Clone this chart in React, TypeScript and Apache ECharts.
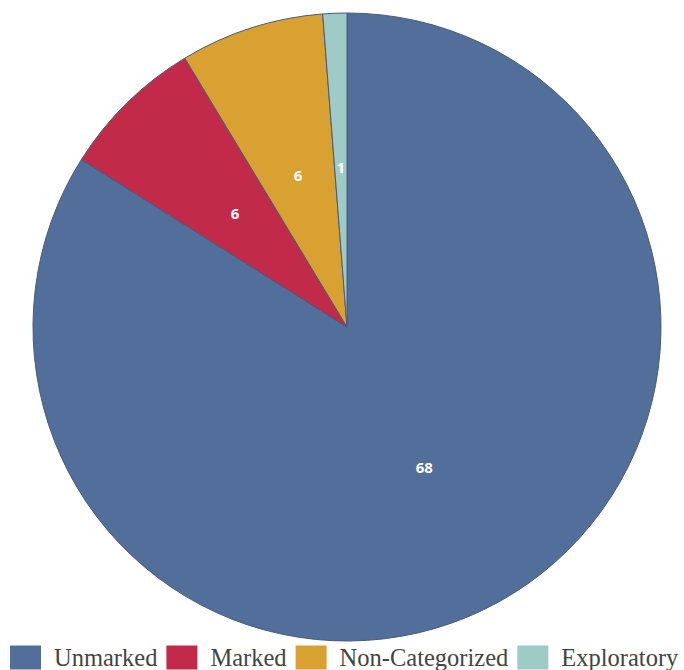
import React, { useEffect, useRef } from "react";
import * as echarts from "echarts";

const categories = ["Unmarked", "Marked", "Non-Categorized", "Exploratory"];
const values = [68, 6, 6, 1];
const colors = ["#516F9A", "#C22A49", "#D9A032", "#9FCBC7"];

export default function App() {
  const ref = useRef<HTMLDivElement>(null);
  useEffect(() => {
    document.body.style.margin = "0";
    const chart = echarts.init(ref.current!, undefined, { renderer: "svg" });
    chart.setOption({
      animation: false,
      color: colors,
      legend: {
        bottom: 0,
        left: 10,
        width: 680,
        padding: 0,
        icon: "rect",
        itemWidth: 31,
        itemHeight: 24,
        itemGap: 9,
        itemStyle: { borderWidth: 0 },
        textStyle: {
          fontFamily: "Liberation Serif",
          fontSize: 24.5,
          lineHeight: 24,
          color: "#444",
          padding: [0, 0, 0, 8],
        },
        data: categories,
      },
      series: [
        {
          type: "pie",
          center: [347, 327],
          radius: 314,
          startAngle: 90,
          clockwise: true,
          data: categories.map((c, i) => ({ name: c, value: values[i] })),
          itemStyle: { borderColor: "#4a5a78", borderWidth: 1 },
          label: {
            show: true,
            position: "inside",
            formatter: "{c}",
            color: "#fff",
            fontWeight: "bold",
            fontFamily: "Open Sans",
            fontSize: 15,
          },
          labelLine: { show: false },
        },
      ],
    });
    return () => chart.dispose();
  }, []);
  return <div ref={ref} style={{ width: 684, height: 670 }} />;
}
